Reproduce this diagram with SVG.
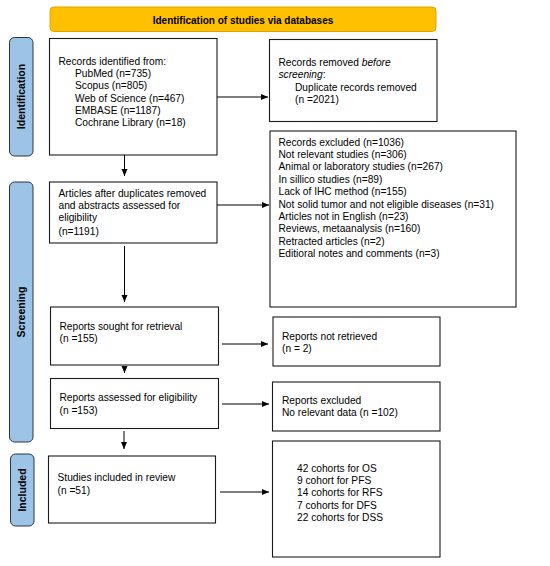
<svg xmlns="http://www.w3.org/2000/svg" width="550" height="566" viewBox="0 0 550 566">
<defs>
<style>
.box{fill:#fff;stroke:#1a1a1a;stroke-width:1.1}
.side{fill:#9DC3E6;stroke:#2B3442;stroke-width:1}
.hdr{fill:#FFC000;stroke:#E0A400;stroke-width:1}
text{font-family:"Liberation Sans",Arial,sans-serif;font-size:10.2px;fill:#000}
.b{font-weight:bold;font-size:10px}
.sl{font-weight:bold;font-size:10.5px;text-anchor:middle}
.c{stroke:#000;stroke-width:1;fill:none;marker-end:url(#ah)}
</style>
<marker id="ah" markerWidth="8" markerHeight="8" refX="7" refY="4" orient="auto" markerUnits="userSpaceOnUse">
<path d="M0,1 L7,4 L0,7 z" fill="#000"/>
</marker>
</defs>
<g id="header">
<rect class="hdr" x="50" y="7" width="386" height="24.5" rx="4"/>
<text class="b" x="243" y="23.5" text-anchor="middle">Identification of studies via databases</text>
</g>
<g id="side-identification">
<rect class="side" x="9.5" y="37.5" width="23.5" height="118.5" rx="5"/>
<text class="sl" transform="translate(25 96.5) rotate(-90)">Identification</text>
</g>
<g id="side-screening">
<rect class="side" x="9.5" y="182" width="23.5" height="260" rx="5"/>
<text class="sl" transform="translate(25 312) rotate(-90)">Screening</text>
</g>
<g id="side-included">
<rect class="side" x="10.5" y="454" width="23.5" height="72" rx="5"/>
<text class="sl" transform="translate(26 490) rotate(-90)">Included</text>
</g>
<g id="records-identified">
<rect class="box" x="49.5" y="38.5" width="167.5" height="116.5"/>
<text x="58.5" y="64.5">Records identified from:</text>
<text x="75" y="77">PubMed (n=735)</text>
<text x="75" y="89.3">Scopus (n=805)</text>
<text x="75" y="101.6">Web of Science (n=467)</text>
<text x="75" y="113.9">EMBASE (n=1187)</text>
<text x="75" y="126.2">Cochrane Library (n=18)</text>
</g>
<g id="records-removed">
<rect class="box" x="269.5" y="39.5" width="167.5" height="82"/>
<text x="278.5" y="65.5">Records removed <tspan font-style="italic">before</tspan></text>
<text x="278.5" y="78"><tspan font-style="italic">screening</tspan>:</text>
<text x="295" y="90.5">Duplicate records removed</text>
<text x="295" y="103">(n =2021)</text>
</g>
<g id="records-excluded">
<rect class="box" x="270" y="131" width="246" height="176"/>
<text x="278.5" y="145.5">Records excluded (n=1036)</text>
<text x="278.5" y="157.9">Not relevant studies (n=306)</text>
<text x="278.5" y="170.3">Animal or laboratory studies (n=267)</text>
<text x="278.5" y="182.7">In sillico studies (n=89)</text>
<text x="278.5" y="195.1">Lack of IHC method (n=155)</text>
<text x="278.5" y="207.5">Not solid tumor and not eligible diseases (n=31)</text>
<text x="278.5" y="219.9">Articles not in English (n=23)</text>
<text x="278.5" y="232.3">Reviews, metaanalysis (n=160)</text>
<text x="278.5" y="244.7">Retracted articles (n=2)</text>
<text x="278.5" y="257.1">Editioral notes and comments (n=3)</text>
</g>
<g id="articles-assessed">
<rect class="box" x="49.5" y="182" width="167.5" height="61"/>
<text x="58.5" y="196.8">Articles after duplicates removed</text>
<text x="58.5" y="209">and abstracts assessed for</text>
<text x="58.5" y="221.2">eligibility</text>
<text x="58.5" y="234.5">(n=1191)</text>
</g>
<g id="reports-sought">
<rect class="box" x="50.5" y="307" width="168" height="58"/>
<text x="59.5" y="329.5">Reports sought for retrieval</text>
<text x="59.5" y="342">(n =155)</text>
</g>
<g id="reports-not-retrieved">
<rect class="box" x="273" y="317" width="167" height="49"/>
<text x="282" y="339.5">Reports not retrieved</text>
<text x="282" y="352">(n = 2)</text>
</g>
<g id="reports-eligibility">
<rect class="box" x="50.5" y="378.5" width="168" height="50"/>
<text x="59.5" y="400.5">Reports assessed for eligibility</text>
<text x="59.5" y="413.5">(n =153)</text>
</g>
<g id="reports-excluded">
<rect class="box" x="272.5" y="382" width="167.5" height="49"/>
<text x="282" y="403.5">Reports excluded</text>
<text x="282" y="416">No relevant data (n =102)</text>
</g>
<g id="studies-included">
<rect class="box" x="48.5" y="456" width="167" height="67"/>
<text x="57.5" y="481">Studies included in review</text>
<text x="57.5" y="493.5">(n =51)</text>
</g>
<g id="cohorts">
<rect class="box" x="272.5" y="441" width="167.5" height="116"/>
<text x="297" y="471.5">42 cohorts for OS</text>
<text x="297" y="483.9">9 cohort for PFS</text>
<text x="297" y="496.3">14 cohorts for RFS</text>
<text x="297" y="508.7">7 cohorts for DFS</text>
<text x="297" y="521.1">22 cohorts for DSS</text>
</g>
<g id="connectors">
<path class="c" d="M217,97 H268"/>
<path class="c" d="M124.5,155 V176"/>
<path class="c" d="M217,205 H269"/>
<path class="c" d="M124.5,246 V302"/>
<path class="c" d="M222,344 H268"/>
<path class="c" d="M124.5,366 V373"/>
<path class="c" d="M222,404 H269"/>
<path class="c" d="M124,431 V449"/>
<path class="c" d="M220,492 H269"/>
</g>
</svg>
